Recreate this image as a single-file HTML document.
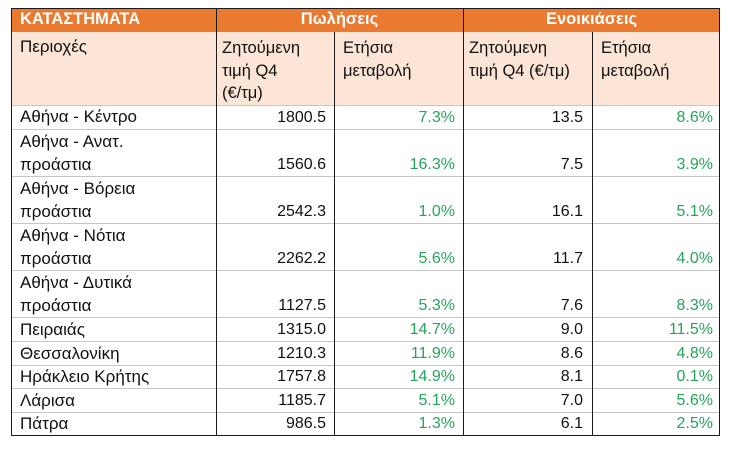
<!DOCTYPE html>
<html>
<head>
<meta charset="utf-8">
<style>
  html, body { margin:0; padding:0; background:#fff; }
  body { width:735px; height:461px; position:relative; overflow:hidden;
         font-family:"Liberation Sans", "DejaVu Sans", sans-serif; font-size:16px; color:#111; }
  .abs { position:absolute; }
  .band { position:absolute; left:11px; width:709px; }
  .hl { position:absolute; left:11px; width:709px; height:1px; background:#c6c6c6; }
  .vl { position:absolute; width:1.5px; background:#1a1a1a; }
  .t { position:absolute; line-height:23.5px; white-space:nowrap; }
  .n { font-size:17px; }
  .h { position:absolute; line-height:22.5px; white-space:nowrap; font-size:16.5px; }
  .r { text-align:right; }
  .g { color:#25a55a; }
  .hd { position:absolute; top:8px; height:23px; line-height:23px; color:#fff; font-weight:bold; font-size:16.5px; white-space:nowrap; }
</style>
</head>
<body>
  <!-- backgrounds -->
  <div class="band" style="top:8px;height:23.5px;background:#E97A30;"></div>
  <div class="band" style="top:31.5px;height:73.5px;background:#FCE4D6;"></div>

  <!-- horizontal grid lines -->
  <div class="hl" style="top:104.5px;"></div>
  <div class="hl" style="top:128.5px;"></div>
  <div class="hl" style="top:176px;"></div>
  <div class="hl" style="top:223px;"></div>
  <div class="hl" style="top:270px;"></div>
  <div class="hl" style="top:317px;"></div>
  <div class="hl" style="top:341px;"></div>
  <div class="hl" style="top:364.5px;"></div>
  <div class="hl" style="top:388px;"></div>
  <div class="hl" style="top:411.5px;"></div>

  <!-- vertical lines -->
  <div class="vl" style="left:215.5px;top:8px;height:428px;"></div>
  <div class="vl" style="left:333.5px;top:31.5px;height:404.5px;"></div>
  <div class="vl" style="left:462.5px;top:8px;height:428px;"></div>
  <div class="vl" style="left:591.5px;top:31.5px;height:404.5px;"></div>

  <!-- outer border -->
  <div class="abs" style="left:10.5px;top:7.5px;width:707.5px;height:426.5px;border:1.5px solid #1a1a1a;"></div>

  <!-- header row 1 -->
  <div class="hd" style="left:20px;">ΚΑΤΑΣΤΗΜΑΤΑ</div>
  <div class="hd" style="left:216px;width:247px;text-align:center;">Πωλήσεις</div>
  <div class="hd" style="left:463px;width:257px;text-align:center;">Ενοικιάσεις</div>

  <!-- header row 2 -->
  <div class="h" style="left:20px;top:36px;font-size:17px;">Περιοχές</div>
  <div class="h" style="left:222px;top:37px;">Ζητούμενη<br>τιμή Q4<br>(€/τμ)</div>
  <div class="h" style="left:343px;top:37px;">Ετήσια<br>μεταβολή</div>
  <div class="h" style="left:469px;top:37px;">Ζητούμενη<br>τιμή Q4 (€/τμ)</div>
  <div class="h" style="left:601px;top:37px;">Ετήσια<br>μεταβολή</div>

  <!-- data: region names -->
  <div class="t n" style="left:20px;top:105px;">Αθήνα - Κέντρο</div>
  <div class="t n" style="left:20px;top:129.5px;">Αθήνα - Ανατ.<br>προάστια</div>
  <div class="t n" style="left:20px;top:176.5px;">Αθήνα - Βόρεια<br>προάστια</div>
  <div class="t n" style="left:20px;top:223.5px;">Αθήνα - Νότια<br>προάστια</div>
  <div class="t n" style="left:20px;top:270.5px;">Αθήνα - Δυτικά<br>προάστια</div>
  <div class="t n" style="left:20px;top:317.5px;">Πειραιάς</div>
  <div class="t n" style="left:20px;top:341.5px;">Θεσσαλονίκη</div>
  <div class="t n" style="left:20px;top:365px;">Ηράκλειο Κρήτης</div>
  <div class="t n" style="left:20px;top:388.5px;">Λάρισα</div>
  <div class="t n" style="left:20px;top:412px;">Πάτρα</div>

  <!-- column 2: sales price (right edge 326) -->
  <div class="t r" style="left:216px;width:110px;top:105.5px;">1800.5</div>
  <div class="t r" style="left:216px;width:110px;top:153px;">1560.6</div>
  <div class="t r" style="left:216px;width:110px;top:200px;">2542.3</div>
  <div class="t r" style="left:216px;width:110px;top:247px;">2262.2</div>
  <div class="t r" style="left:216px;width:110px;top:294px;">1127.5</div>
  <div class="t r" style="left:216px;width:110px;top:317.5px;">1315.0</div>
  <div class="t r" style="left:216px;width:110px;top:341.5px;">1210.3</div>
  <div class="t r" style="left:216px;width:110px;top:365px;">1757.8</div>
  <div class="t r" style="left:216px;width:110px;top:388.5px;">1185.7</div>
  <div class="t r" style="left:216px;width:110px;top:412px;">986.5</div>

  <!-- column 3: sales change (right edge 455) -->
  <div class="t r g" style="left:334px;width:121px;top:105.5px;">7.3%</div>
  <div class="t r g" style="left:334px;width:121px;top:153px;">16.3%</div>
  <div class="t r g" style="left:334px;width:121px;top:200px;">1.0%</div>
  <div class="t r g" style="left:334px;width:121px;top:247px;">5.6%</div>
  <div class="t r g" style="left:334px;width:121px;top:294px;">5.3%</div>
  <div class="t r g" style="left:334px;width:121px;top:317.5px;">14.7%</div>
  <div class="t r g" style="left:334px;width:121px;top:341.5px;">11.9%</div>
  <div class="t r g" style="left:334px;width:121px;top:365px;">14.9%</div>
  <div class="t r g" style="left:334px;width:121px;top:388.5px;">5.1%</div>
  <div class="t r g" style="left:334px;width:121px;top:412px;">1.3%</div>

  <!-- column 4: rent price (right edge 583) -->
  <div class="t r" style="left:463px;width:120px;top:105.5px;">13.5</div>
  <div class="t r" style="left:463px;width:120px;top:153px;">7.5</div>
  <div class="t r" style="left:463px;width:120px;top:200px;">16.1</div>
  <div class="t r" style="left:463px;width:120px;top:247px;">11.7</div>
  <div class="t r" style="left:463px;width:120px;top:294px;">7.6</div>
  <div class="t r" style="left:463px;width:120px;top:317.5px;">9.0</div>
  <div class="t r" style="left:463px;width:120px;top:341.5px;">8.6</div>
  <div class="t r" style="left:463px;width:120px;top:365px;">8.1</div>
  <div class="t r" style="left:463px;width:120px;top:388.5px;">7.0</div>
  <div class="t r" style="left:463px;width:120px;top:412px;">6.1</div>

  <!-- column 5: rent change (right edge 713) -->
  <div class="t r g" style="left:592px;width:121px;top:105.5px;">8.6%</div>
  <div class="t r g" style="left:592px;width:121px;top:153px;">3.9%</div>
  <div class="t r g" style="left:592px;width:121px;top:200px;">5.1%</div>
  <div class="t r g" style="left:592px;width:121px;top:247px;">4.0%</div>
  <div class="t r g" style="left:592px;width:121px;top:294px;">8.3%</div>
  <div class="t r g" style="left:592px;width:121px;top:317.5px;">11.5%</div>
  <div class="t r g" style="left:592px;width:121px;top:341.5px;">4.8%</div>
  <div class="t r g" style="left:592px;width:121px;top:365px;">0.1%</div>
  <div class="t r g" style="left:592px;width:121px;top:388.5px;">5.6%</div>
  <div class="t r g" style="left:592px;width:121px;top:412px;">2.5%</div>
</body>
</html>
